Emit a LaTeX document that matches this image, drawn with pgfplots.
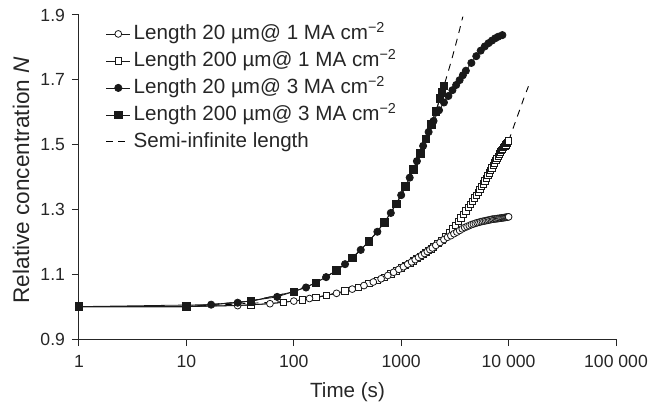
\documentclass[border=0pt]{standalone}
\usepackage{pgfplots}
\pgfplotsset{compat=1.18}
\usepackage{fontspec}
\setmainfont{Liberation Sans}
\begin{document}
\begin{tikzpicture}
\begin{axis}[
  xmode=log, log basis x=10,
  width=268.5pt, height=162pt, scale only axis,
  xmin=1, xmax=100000, ymin=0.9, ymax=1.9,
  clip=false,
  axis lines=left,
  axis line style={-, line width=0.5pt, black!85},
  xtick={1,10,100,1000,10000,100000},
  xticklabels={1,10,100,1000,10~000,100~000},
  ytick={0.9,1.1,1.3,1.5,1.7,1.9},
  yticklabels={0.9,1.1,1.3,1.5,1.7,1.9},
  xminorticks=false, yminorticks=false,
  tick align=outside, major tick length=3.5pt,
  tick style={line width=0.5pt, black!85},
  ticklabel style={font=\fontsize{8.8}{10}\selectfont, text=black!85},
  xticklabel style={yshift=-1pt},
  xlabel={Time (s)},
  ylabel={Relative concentration \textit{N}},
  xlabel style={font=\fontsize{10.3}{12}\selectfont, text=black!85, at={(axis description cs:0.5,-0.1636)}, anchor=center},
  ylabel style={font=\fontsize{11.3}{13}\selectfont, text=black!85, at={(axis description cs:-0.108,0.49)}, anchor=center},
  legend style={at={(axis description cs:0.05,0.974)}, anchor=north west,
    draw=none, fill=none, inner sep=0pt, outer sep=0pt,
    font=\fontsize{10.3}{12}\selectfont, text=black!85,
    row sep=3pt,
    nodes={inner xsep=1.5pt, inner ysep=0pt, text height=8pt, text depth=2.5pt}},
  legend cell align=left,
  legend image code/.code={\draw[mark repeat=2,mark phase=2,#1] plot coordinates {(0pt,0pt) (6pt,0pt) (12pt,0pt)};},
]
\coordinate (bl) at (rel axis cs:-0.1471,-0.2099);
\coordinate (tr) at (rel axis cs:1.0726,1.0463);

% semi-infinite length (dashed)
\addplot[forget plot, black, line width=0.45pt, dash pattern=on 3.5pt off 3pt] coordinates {
(10,1.000)(40,1.017)(100,1.046)(200,1.091)(300,1.131)(400,1.168)(500,1.201)(600,1.231)(800,1.289)(1000,1.344)(1200,1.398)(1400,1.449)(1600,1.496)(1800,1.540)(2000,1.583)(2200,1.623)(2400,1.662)(2500,1.681)(2750,1.727)(3000,1.771)(3250,1.814)(3500,1.855)(3750,1.895)};
\addplot[forget plot, black, line width=0.45pt, dash pattern=on 3.5pt off 3pt] coordinates {
(10,1.000)(100,1.017)(200,1.034)(400,1.060)(600,1.081)(800,1.101)(1000,1.119)(1500,1.155)(2000,1.184)(2400,1.205)(3000,1.240)(4000,1.295)(5000,1.344)(6000,1.388)(7000,1.428)(8000,1.464)(9000,1.491)(10000,1.511)(11000,1.550)(12000,1.585)(13000,1.617)(14000,1.647)(15300,1.680)};

% 200 um @ 1 MA
\addplot[forget plot, black!90, line width=0.4pt, mark=square*, mark size=1.6pt, mark options={solid, fill=white, draw=black!90, line width=0.4pt}] coordinates {
(1,1.000)(10,1.000)(40,1.005)(80,1.013)(120,1.021)(160,1.028)(200,1.034)(300,1.048)(400,1.060)(500,1.071)(600,1.081)(700,1.091)(800,1.101)(900,1.110)(1000,1.119)(1100,1.127)(1200,1.134)(1300,1.141)(1400,1.148)(1500,1.155)(1600,1.161)(1700,1.167)(1800,1.173)(1900,1.178)(2000,1.184)(2200,1.195)(2400,1.205)(2600,1.217)(2800,1.228)(3000,1.240)(3200,1.251)(3400,1.263)(3600,1.274)(3800,1.285)(4000,1.295)(4200,1.306)(4400,1.316)(4600,1.325)(4800,1.335)(5000,1.344)(5200,1.353)(5400,1.362)(5600,1.371)(5800,1.379)(6000,1.388)(6200,1.396)(6400,1.405)(6600,1.413)(6800,1.421)(7000,1.428)(7200,1.436)(7400,1.443)(7600,1.451)(7800,1.458)(8000,1.464)(8200,1.471)(8400,1.477)(8600,1.482)(8800,1.486)(9000,1.491)(9200,1.495)(9400,1.499)(9600,1.503)(9800,1.507)(10000,1.511)};

% 20 um @ 1 MA
\addplot[forget plot, black!90, line width=0.4pt, mark=*, mark size=1.7pt, mark options={solid, fill=white, draw=black!90, line width=0.4pt}] coordinates {
(1,1.000)(10,1.000)(30,1.003)(60,1.009)(100,1.017)(140,1.025)(250,1.041)(350,1.054)(450,1.065)(550,1.076)(650,1.086)(750,1.096)(850,1.106)(950,1.115)(1050,1.123)(1150,1.131)(1250,1.138)(1350,1.145)(1450,1.152)(1550,1.158)(1650,1.164)(1750,1.170)(1850,1.176)(1950,1.181)(2100,1.189)(2300,1.198)(2500,1.207)(2700,1.214)(2900,1.219)(3100,1.225)(3300,1.230)(3500,1.235)(3700,1.240)(3900,1.244)(4100,1.247)(4300,1.250)(4500,1.253)(4700,1.255)(4900,1.257)(5100,1.259)(5300,1.260)(5500,1.262)(5700,1.263)(5900,1.264)(6100,1.265)(6300,1.266)(6500,1.267)(6700,1.268)(6900,1.269)(7100,1.270)(7300,1.270)(7500,1.271)(7700,1.271)(7900,1.272)(8100,1.272)(8300,1.273)(8500,1.273)(8700,1.274)(8900,1.274)(9100,1.275)(9300,1.275)(9500,1.276)(9700,1.276)(9900,1.277)(10000,1.277)};

% 200 um @ 3 MA
\addplot[forget plot, black!90, line width=0.4pt, mark=square*, mark size=1.9pt, mark options={solid, fill=black!90, draw=black!90}] coordinates {
(1,1.000)(10,1.000)(40,1.017)(100,1.046)(160,1.073)(250,1.111)(350,1.150)(500,1.201)(700,1.260)(900,1.317)(1100,1.371)(1300,1.424)(1500,1.473)(1700,1.518)(1900,1.562)(2100,1.603)(2300,1.643)(2400,1.662)(2500,1.681)};

% 20 um @ 3 MA
\addplot[forget plot, black!90, line width=0.4pt, mark=*, mark size=1.8pt, mark options={solid, fill=black!90, draw=black!90}] coordinates {
(1,1.000)(17,1.006)(30,1.012)(70,1.030)(130,1.059)(200,1.091)(300,1.131)(420,1.175)(600,1.231)(800,1.289)(1000,1.344)(1200,1.398)(1400,1.449)(1600,1.496)(1800,1.539)(2000,1.573)(2250,1.606)(2500,1.630)(2750,1.650)(3000,1.668)(3250,1.684)(3500,1.699)(3750,1.714)(4000,1.728)(4500,1.752)(5000,1.773)(5500,1.790)(6000,1.803)(6500,1.813)(7000,1.821)(7500,1.828)(8000,1.833)(8750,1.838)};

% legend
\addlegendimage{black!90, line width=0.4pt, mark=*, mark size=1.7pt, mark options={solid, fill=white, draw=black!90}}
\addlegendentry{Length 20 µm@ 1 MA cm\textsuperscript{−2}}
\addlegendimage{black!90, line width=0.4pt, mark=square*, mark size=1.6pt, mark options={solid, fill=white, draw=black!90}}
\addlegendentry{Length 200 µm@ 1 MA cm\textsuperscript{−2}}
\addlegendimage{black!90, line width=0.4pt, mark=*, mark size=1.8pt, mark options={solid, fill=black!90, draw=black!90}}
\addlegendentry{Length 20 µm@ 3 MA cm\textsuperscript{−2}}
\addlegendimage{black!90, line width=0.4pt, mark=square*, mark size=1.9pt, mark options={solid, fill=black!90, draw=black!90}}
\addlegendentry{Length 200 µm@ 3 MA cm\textsuperscript{−2}}
\addlegendimage{black, line width=0.45pt, dash pattern=on 3.5pt off 2.5pt}
\addlegendentry{Semi-infinite length}
\end{axis}
\pgfresetboundingbox
\path[use as bounding box] (bl) rectangle (tr);
\end{tikzpicture}
\end{document}
